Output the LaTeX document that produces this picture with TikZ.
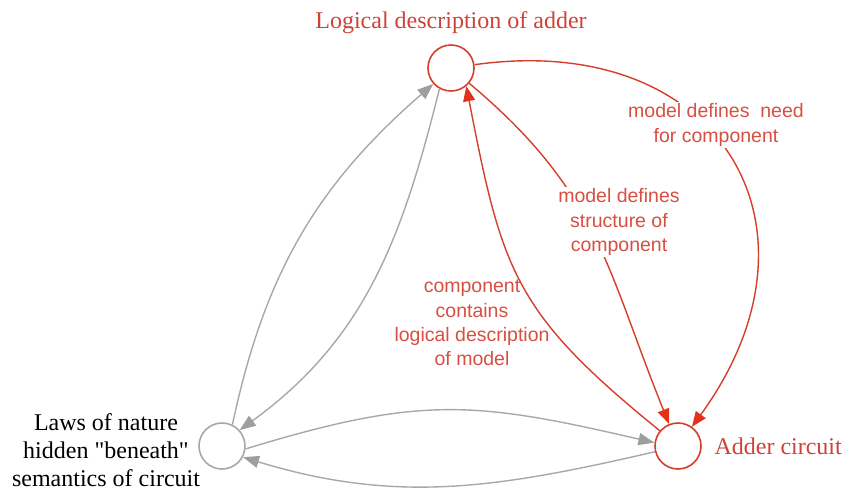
\documentclass[tikz,border=0pt]{standalone}
\usepackage{fontspec}
\setmainfont{Liberation Serif}[Ligatures=TeXOff]
\newfontfamily\labelsans{Liberation Sans}
\usetikzlibrary{arrows.meta}

\definecolor{linkred}{RGB}{214,62,44}
\definecolor{textred}{RGB}{204,66,54}
\definecolor{notered}{RGB}{214,80,66}
\definecolor{tipred}{RGB}{226,50,26}
\definecolor{linkgray}{RGB}{168,168,168}
\definecolor{tipgray}{RGB}{158,158,158}

\begin{document}
\begin{tikzpicture}[x=1pt,y=1pt,
  state/.style={circle, line width=1.6pt, minimum size=46pt, inner sep=0pt, fill=white},
  redstate/.style={state, draw=linkred},
  graystate/.style={state, draw=linkgray},
  rededge/.style={draw=linkred, line width=1.4pt,
    -{Triangle[length=15pt,width=12pt,color=tipred]}},
  grayedge/.style={draw=linkgray, line width=1.4pt,
    -{Triangle[length=16pt,width=12pt,color=tipgray]}},
  title/.style={font=\fontsize{24}{28}\selectfont},
  note/.style={font=\labelsans\fontsize{19.5}{24.3}\selectfont, text=notered, align=center, inner sep=2pt}
]
\useasboundingbox (0,0) rectangle (844,-491);

% the three concepts
\node[redstate]  (top)   at (451,-68)  {};
\node[redstate]  (adder) at (678,-446) {};
\node[graystate] (left)  at (222,-446) {};

\node[title, text=textred] (toptext) at (451,-23) {Logical description of adder};
\node[title, text=textred, anchor=west] (addertext) at (711,-446) {Adder circuit};
\node[title, align=center] (lawstext) at (106,-450)
  {Laws of nature\\hidden "beneath"\\semantics of circuit};

% grey links between nature and the other two
\draw[grayedge] (left.64) to[out=78,in=221] (top.222);
\draw[grayedge] (top.241) to[out=256,in=36] (left.42);
\draw[grayedge] (left.-7) to[out=17,in=167,looseness=1.15] (adder.172);
\draw[grayedge] (adder.194) to[out=193,in=-17] (left.-28);

% red links between model and component
\draw[rededge] (top) to[out=8,in=54,looseness=1.5] (adder);
\draw[rededge] (top) to[out=-40,in=112,looseness=1.1] (adder);
\draw[rededge] (adder.140) to[out=141,in=-79,looseness=1.22] (top.-50);

\node[note, fill=white] (need) at (716,-125) {model defines~ need\\for component};
\node[note, fill=white] (struct) at (619,-222) {model defines\\structure of\\component};
\node[note] (contains) at (472,-323) {component\\contains\\logical description\\of model};
\end{tikzpicture}
\end{document}
